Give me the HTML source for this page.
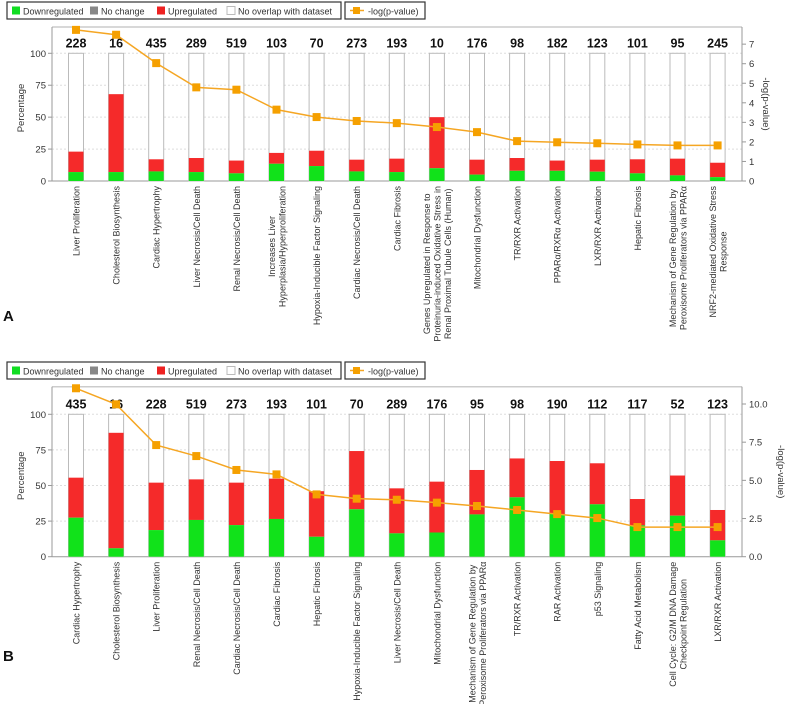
<!DOCTYPE html>
<html><head><meta charset="utf-8"><style>
body{margin:0;background:#fff;width:787px;height:704px;overflow:hidden;font-family:"Liberation Sans",sans-serif}
svg{display:block}
</style></head><body>
<svg id="chart" width="787" height="704" viewBox="0 0 787 704" xmlns="http://www.w3.org/2000/svg" font-family="Liberation Sans, DejaVu Sans, sans-serif"></svg>
<script>
const catsA = ["Liver Proliferation","Cholesterol Biosynthesis","Cardiac Hypertrophy","Liver Necrosis/Cell Death","Renal Necrosis/Cell Death","Increases Liver|Hyperplasia/Hyperproliferation","Hypoxia-Inducible Factor Signaling","Cardiac Necrosis/Cell Death","Cardiac Fibrosis","Genes Upregulated in Response to|Proteinuria-induced Oxidative Stress in|Renal Proximal Tubule Cells (Human)","Mitochondrial Dysfunction","TR/RXR Activation","PPARα/RXRα Activation","LXR/RXR Activation","Hepatic Fibrosis","Mechanism of Gene Regulation by|Peroxisome Proliferators via PPARα","NRF2-mediated Oxidative Stress|Response"];
const countsA = [228,16,435,289,519,103,70,273,193,10,176,98,182,123,101,95,245];
const downA = [7,7,7.5,7,6,13.5,11.7,7.5,7,10,5,8,8,7.3,6,4.4,3];
const upTopA = [23,68,17,18,16,22,23.7,16.7,17.5,50,16.7,18,16,16.7,17,17.5,14.3];
const logpA = [7.73,7.48,6.03,4.79,4.67,3.65,3.27,3.07,2.96,2.76,2.5,2.04,1.98,1.93,1.87,1.82,1.82];
const rightTicksA = ["0","1","2","3","4","5","6","7"];

const catsB = ["Cardiac Hypertrophy","Cholesterol Biosynthesis","Liver Proliferation","Renal Necrosis/Cell Death","Cardiac Necrosis/Cell Death","Cardiac Fibrosis","Hepatic Fibrosis","Hypoxia-Inducible Factor Signaling","Liver Necrosis/Cell Death","Mitochondrial Dysfunction","Mechanism of Gene Regulation by|Peroxisome Proliferators via PPARα","TR/RXR Activation","RAR Activation","p53 Signaling","Fatty Acid Metabolism","Cell Cycle: G2/M DNA Damage|Checkpoint Regulation","LXR/RXR Activation"];
const countsB = [435,16,228,519,273,193,101,70,289,176,95,98,190,112,117,52,123];
const downB = [27.4,5.9,18.7,25.8,22.2,26.5,14,33.3,16.4,17,29.7,41.7,30,36.8,22,28.8,11.5];
const upTopB = [55.5,87,52,54.3,52,54.8,46,74.2,48,52.7,60.9,69,67.2,65.6,40.5,57,32.8];
const logpB = [11.03,9.98,7.31,6.59,5.68,5.39,4.08,3.8,3.73,3.54,3.32,3.06,2.79,2.53,1.94,1.94,1.94];
const rightTicksB = ["0.0","2.5","5.0","7.5","10.0"];
const leftTicks = [0,25,50,75,100];

const svg = document.getElementById('chart');
const NS = "http://www.w3.org/2000/svg";
function mk(tag, attrs, parent){const e=document.createElementNS(NS,tag);for(const k in attrs)e.setAttribute(k,attrs[k]);(parent||svg).appendChild(e);return e;}

function legend(y0){
  const g = mk('g',{});
  
  
  mk('rect',{x:7,y:y0,width:334,height:17,fill:'#fff',stroke:'#333','stroke-width':1.2},g);
  const items=[["Downregulated","#11dd22",12],["No change","#888",90],["Upregulated","#ee2222",157],["No overlap with dataset","#fff",227]];
  items.forEach(it=>{
    const r=mk('rect',{x:it[2],y:y0+4.5,width:8,height:8,fill:it[1],stroke:it[1]=="#fff"?'#bbb':'none'},g);
    
    
    const t=mk('text',{x:it[2]+11,y:y0+12.5,'font-size':9,fill:'#333'},g);t.textContent=it[0];
    
    
  });
  mk('rect',{x:345,y:y0,width:80,height:17,fill:'#fff',stroke:'#333','stroke-width':1.2},g);
  mk('line',{x1:350,y1:y0+8.5,x2:364,y2:y0+8.5,stroke:'#f5a623','stroke-width':1.5},g);
  mk('rect',{x:353,y:y0+5,width:7,height:7,fill:'#f5a000'},g);
  const t=mk('text',{x:368,y:y0+12.5,'font-size':9,fill:'#333'},g);t.textContent="-log(p-value)";
  
  
}

function panel(o){
  const g=mk('g',{});
  
  
  const yL=v=>o.y0-(v/100)*o.pxPct;
  const yR=v=>o.y0-v*o.pxUnit;
  const xC=i=>76+i*40.1;
  o.gridVals.forEach(v=>{mk('line',{x1:52,x2:742,y1:yL(v),y2:yL(v),stroke:'#ddd','stroke-dasharray':'2,2'},g);});
  mk('line',{x1:52,x2:742,y1:o.top,y2:o.top,stroke:'#ccc','stroke-width':1.5},g);
  mk('line',{x1:52,x2:52,y1:o.top,y2:o.y0,stroke:'#999'},g);
  mk('line',{x1:52,x2:742,y1:o.y0,y2:o.y0,stroke:'#999'},g);
  mk('line',{x1:742,x2:742,y1:o.top,y2:o.y0,stroke:'#999'},g);
  leftTicks.forEach(v=>{
    mk('line',{x1:48,x2:52,y1:yL(v),y2:yL(v),stroke:'#999'},g);
    const t=mk('text',{x:46,y:yL(v)+3.5,'font-size':9.5,'text-anchor':'end',fill:'#333'},g);t.textContent=v;
    
    
  });
  o.rTicks.forEach(s=>{
    const v=parseFloat(s);
    mk('line',{x1:742,x2:746,y1:yR(v),y2:yR(v),stroke:'#999'},g);
    const t=mk('text',{x:749,y:yR(v)+3.5,'font-size':9.5,fill:'#333'},g);t.textContent=s;
    
    
  });
  const yt=mk('text',{transform:`translate(24,${(o.top+o.y0)/2+4}) rotate(-90)`,'font-size':9.5,'text-anchor':'middle',fill:'#333'},g);yt.textContent="Percentage";
  
  
  const rt=mk('text',{transform:`translate(${o.rtX},${(o.top+o.y0)/2}) rotate(90)`,'font-size':9.5,'text-anchor':'middle',fill:'#333'},g);rt.textContent="-log(p-value)";
  
  
  o.cats.forEach((c,i)=>{
    const x=xC(i);
    const b=mk('rect',{x:x-7.5,y:yL(100),width:15,height:yL(0)-yL(100),fill:'#fff',stroke:'#bbb'},g);
    
    
    const r=mk('rect',{x:x-7.5,y:yL(o.up[i]),width:15,height:yL(o.down[i])-yL(o.up[i]),fill:'#f52a2a'},g);
    
    
    const gr=mk('rect',{x:x-7.5,y:yL(o.down[i]),width:15,height:yL(0)-yL(o.down[i]),fill:'#11e21a'},g);
    
    
    const n=mk('text',{x:x,y:yL(100)-6,'font-size':12.5,'font-weight':'bold','text-anchor':'middle',fill:'#111'},g);n.textContent=o.counts[i];
    
    
    const lines=c.split('|');
    const els=lines.map((ln,j)=>{
      const t=mk('text',{'font-size':9,'text-anchor':lines.length>1?'middle':'end',fill:'#333'},g);
      t.textContent=ln;
      
      
      return t;
    });
    let maxL=0;els.forEach(t=>{maxL=Math.max(maxL,t.getComputedTextLength());});
    els.forEach((t,j)=>{
      const dx=x+3.5+(j-(lines.length-1)/2)*10.5;
      const dy=o.y0+5+(lines.length>1?maxL/2:0);
      t.setAttribute('transform',`translate(${dx},${dy}) rotate(-90)`);
    });
  });
  let d='';
  o.logp.forEach((v,i)=>{d+=(i?'L':'M')+xC(i)+','+yR(v);});
  const p=mk('path',{d:d,fill:'none',stroke:'#f5a623','stroke-width':1.5},g);
  
  
  o.logp.forEach((v,i)=>{
    const m=mk('rect',{x:xC(i)-4,y:yR(v)-4,width:8,height:8,fill:'#f5a000'},g);
    
    
  });
}
legend(2);
panel({name:'panel-a',cats:catsA,counts:countsA,down:downA,up:upTopA,logp:logpA,rTicks:rightTicksA,y0:181,top:27,pxPct:127.7,pxUnit:19.55,gridVals:[25,50,75,100],rtX:763});
const la=mk('text',{x:3,y:321,'font-size':15,'font-weight':'bold',fill:'#111'});la.textContent='A';


legend(362);
panel({name:'panel-b',cats:catsB,counts:countsB,down:downB,up:upTopB,logp:logpB,rTicks:rightTicksB,y0:556.7,top:386.7,pxPct:142.4,pxUnit:15.27,gridVals:[25,50,75,100],rtX:778});
const lb=mk('text',{x:3,y:661,'font-size':15,'font-weight':'bold',fill:'#111'});lb.textContent='B';


</script>
</body></html>
